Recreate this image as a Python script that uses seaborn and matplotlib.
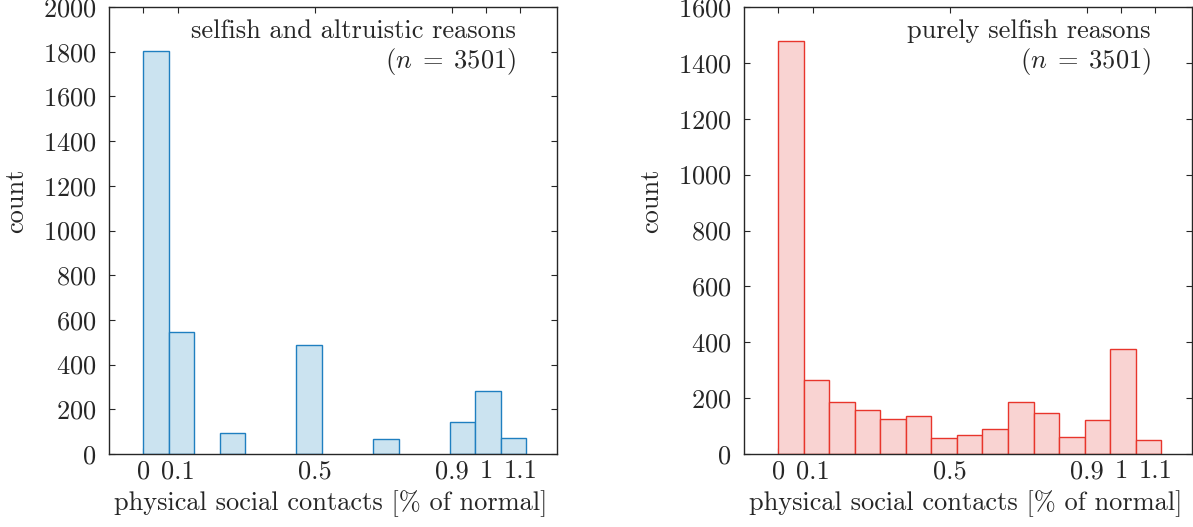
import numpy as np
import pandas as pd
import seaborn as sns
import matplotlib.pyplot as plt

# bin layout: 15 bins from 0 to ~1.117
n_bins = 15
x_max = 1.117

# counts per bin
counts_both = [1805, 546, 0, 96, 0, 0, 489, 0, 0, 66, 0, 0, 143, 283, 73]
counts_selfish = [1480, 264, 185, 157, 125, 136, 59, 68, 89, 187, 145, 60, 122, 375, 49]

x_ticks = [0, 0.1, 0.5, 0.9, 1, 1.1]
x_ticklabels = ['0', '0.1', '0.5', '0.9', '1', '1.1']

titles = ['selfish and altruistic reasons', 'purely selfish reasons']
n_text = r'$(n \;=\; 3501)$'

edges = np.linspace(0, x_max, n_bins + 1)
centers = (edges[:-1] + edges[1:]) / 2

sns.set_style('ticks')
plt.rcParams['font.family'] = 'serif'
plt.rcParams['font.serif'] = ['cmr10']
plt.rcParams['mathtext.fontset'] = 'cm'
plt.rcParams['axes.formatter.use_mathtext'] = True
plt.rcParams['axes.unicode_minus'] = False

W, H = 1193, 527
top, bottom = 7, 454
fig = plt.figure(figsize=(W / 100, H / 100), dpi=100)
ax1 = fig.add_axes([109 / W, (H - bottom) / H, 448 / W, (bottom - top) / H])
ax2 = fig.add_axes([744 / W, (H - bottom) / H, 448 / W, (bottom - top) / H])

panels = [
    (ax1, counts_both, '#1f7fc0', '#cbe3f0', 2000, 200, titles[0]),
    (ax2, counts_selfish, '#e8352c', '#f9d3d2', 1600, 200, titles[1]),
]

fs = 19
for ax, counts, ec, fc, ymax, ystep, title in panels:
    df = pd.DataFrame({'x': centers, 'w': counts})
    sns.histplot(data=df, x='x', weights='w', bins=list(edges), ax=ax,
                 color=fc, edgecolor=ec, linewidth=1.0, alpha=1)
    # empty bins get no outline
    for p in ax.patches:
        if p.get_height() == 0:
            p.set_visible(False)
    ax.set_xlim(-0.1, 1.207)
    ax.set_ylim(0, ymax)
    ax.set_xticks(x_ticks)
    ax.set_xticklabels(x_ticklabels)
    ax.set_yticks(np.arange(0, ymax + 1, ystep))
    ax.tick_params(direction='in', top=True, right=True, labelsize=fs,
                   length=4, width=0.8)
    ax.tick_params(axis='x', pad=4)
    ax.tick_params(axis='y', pad=9)
    for s in ax.spines.values():
        s.set_visible(True)
        s.set_linewidth(1.0)
    ax.set_xlabel('physical social contacts [% of normal]', fontsize=fs)
    ax.set_ylabel('count', fontsize=fs)
    ax.xaxis.set_label_coords(0.495, -0.080)
    ax.yaxis.set_label_coords(-0.18, 0.567)
    ax.text(0.908, 0.972, title, transform=ax.transAxes, ha='right', va='top', fontsize=fs)
    ax.text(0.908, 0.912, n_text, transform=ax.transAxes, ha='right', va='top', fontsize=fs)

fig.savefig('out.png', dpi=100)
